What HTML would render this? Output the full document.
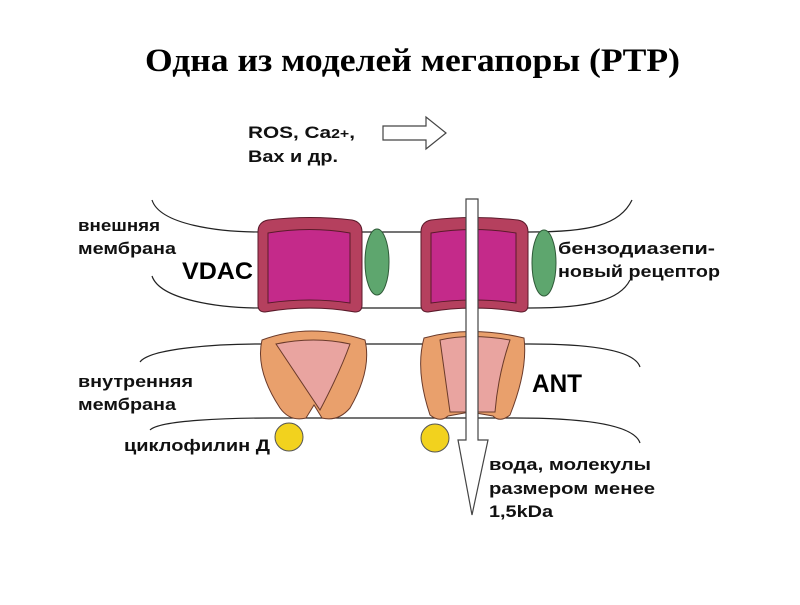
<!DOCTYPE html>
<html><head><meta charset="utf-8"><style>
body{margin:0;background:#fff;width:800px;height:600px;overflow:hidden}
</style></head><body>
<svg width="800" height="600" viewBox="0 0 800 600" xmlns="http://www.w3.org/2000/svg" font-family="Liberation Sans, sans-serif">
<text x="145" y="71" textLength="535" lengthAdjust="spacingAndGlyphs" font-family="Liberation Serif, serif" font-weight="bold" font-size="33">Одна из моделей мегапоры (PTP)</text>
<g font-weight="bold" font-size="17" fill="#111">
<text x="248" y="138" textLength="107" lengthAdjust="spacingAndGlyphs">ROS, Ca<tspan font-size="13">2+</tspan>,</text>
<text x="248" y="162" textLength="90" lengthAdjust="spacingAndGlyphs">Bax и др.</text>
<text x="78" y="231" textLength="82" lengthAdjust="spacingAndGlyphs">внешняя</text>
<text x="78" y="254" textLength="98" lengthAdjust="spacingAndGlyphs">мембрана</text>
<text x="78" y="387" textLength="115" lengthAdjust="spacingAndGlyphs">внутренняя</text>
<text x="78" y="410" textLength="98" lengthAdjust="spacingAndGlyphs">мембрана</text>
<text x="124" y="451" textLength="146" lengthAdjust="spacingAndGlyphs">циклофилин Д</text>
<text x="558" y="254" textLength="157" lengthAdjust="spacingAndGlyphs">бензодиазепи-</text>
<text x="558" y="277" textLength="162" lengthAdjust="spacingAndGlyphs">новый рецептор</text>
<text x="489" y="470" textLength="162" lengthAdjust="spacingAndGlyphs">вода, молекулы</text>
<text x="489" y="494" textLength="166" lengthAdjust="spacingAndGlyphs">размером менее</text>
<text x="489" y="517" textLength="64" lengthAdjust="spacingAndGlyphs">1,5kDa</text>
</g>
<text x="182" y="279" font-weight="bold" font-size="24" textLength="71" lengthAdjust="spacingAndGlyphs">VDAC</text>
<text x="532" y="392" font-weight="bold" font-size="25" textLength="50" lengthAdjust="spacingAndGlyphs">ANT</text>
<path d="M383,126 H426 V117 L446,133 L426,149 V140 H383 Z" fill="#fff" stroke="#444" stroke-width="1.2"/>
<g fill="none" stroke="#222" stroke-width="1.2">
<path d="M152,200 C160,225 220,232 260,232 H530 C590,232 620,225 632,200"/>
<path d="M152,276 C160,300 220,308 260,308 H530 C590,308 620,300 630,280"/>
<path d="M140,362 C150,348 220,344 260,344 H530 C600,344 635,352 640,367"/>
<path d="M150,430 C160,420 230,418 270,418 H515 C600,418 635,428 640,443"/>
</g>
<g stroke="#5a1a2a" stroke-width="1">
<path d="M258,232 Q258,222 268,220 Q310,215 352,220 Q362,222 362,232 V305 Q362,312 355,312 Q310,304 265,312 Q258,312 258,305 Z" fill="#b5405e"/>
<path d="M268,233 Q310,226 350,233 V303 Q310,297 268,303 Z" fill="#c42a8a"/>
<path d="M421,232 Q421,222 431,220 Q473,215 518,220 Q528,222 528,232 V305 Q528,312 521,312 Q473,304 428,312 Q421,312 421,305 Z" fill="#b5405e"/>
<path d="M431,233 Q473,226 516,233 V303 Q473,297 431,303 Z" fill="#c42a8a"/>
</g>
<g fill="#5ea66e" stroke="#2f5a38">
<ellipse cx="377" cy="262" rx="12" ry="33"/>
<ellipse cx="544" cy="263" rx="12" ry="33"/>
</g>
<g stroke="#6a3a2a" stroke-width="1">
<path d="M262,340 Q310,322 365,340 Q372,370 350,408 Q338,422 322,418 L314,405 L306,418 Q290,422 280,408 Q255,370 262,340 Z" fill="#e9a06c"/>
<path d="M276,344 Q314,336 350,344 Q340,372 320,410 Q300,380 276,344 Z" fill="#e9a4a0"/>
<path d="M424,338 Q470,325 524,338 Q528,370 510,415 Q500,423 493,416 L470,412 L448,416 Q440,423 430,415 Q415,370 424,338 Z" fill="#e9a06c"/>
<path d="M440,340 Q470,333 510,340 Q498,375 495,412 L450,412 Q445,375 440,340 Z" fill="#e9a4a0"/>
</g>
<g fill="#f2d21e" stroke="#555">
<circle cx="289" cy="437" r="14"/>
<circle cx="435" cy="438" r="14"/>
</g>
<path d="M466,199 H478 V440 H488 L472,515 L458,440 H466 Z" fill="#fff" stroke="#444" stroke-width="1.2"/>
</svg>
</body></html>
